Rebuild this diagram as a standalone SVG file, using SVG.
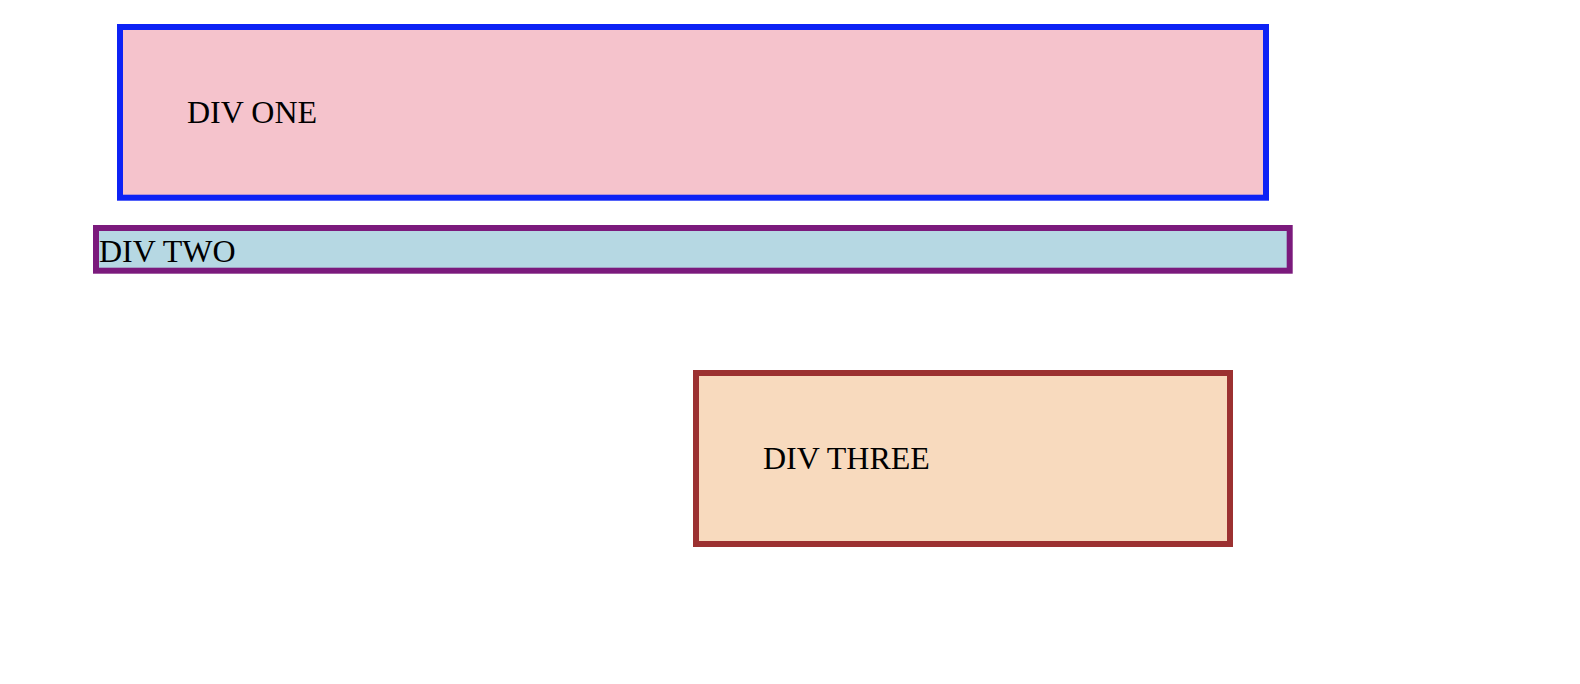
<svg xmlns="http://www.w3.org/2000/svg" width="1580" height="684" viewBox="0 0 1580 684">
<style>
  .lbl { font-family: "Liberation Serif", "Times New Roman", serif; font-size: 32px; fill: #000; }
  .box { stroke-width: 6; }
</style>
<rect x="0" y="0" width="1580" height="684" fill="#ffffff"/>
<g id="div-one">
  <rect class="box" x="120" y="27" width="1146" height="170.7" fill="#F5C3CC" stroke="#0D22F5"/>
  <text class="lbl" x="187" y="122.5">DIV ONE</text>
</g>
<g id="div-two">
  <rect class="box" x="96" y="228" width="1193.7" height="42.7" fill="#B6D8E3" stroke="#7B1A7C"/>
  <text class="lbl" x="99" y="261.5">DIV TWO</text>
</g>
<g id="div-three">
  <rect class="box" x="696" y="373" width="534" height="171" fill="#F8DABE" stroke="#9C3131"/>
  <text class="lbl" x="763" y="468.5">DIV THREE</text>
</g>
<g id="connectors"></g>
</svg>
